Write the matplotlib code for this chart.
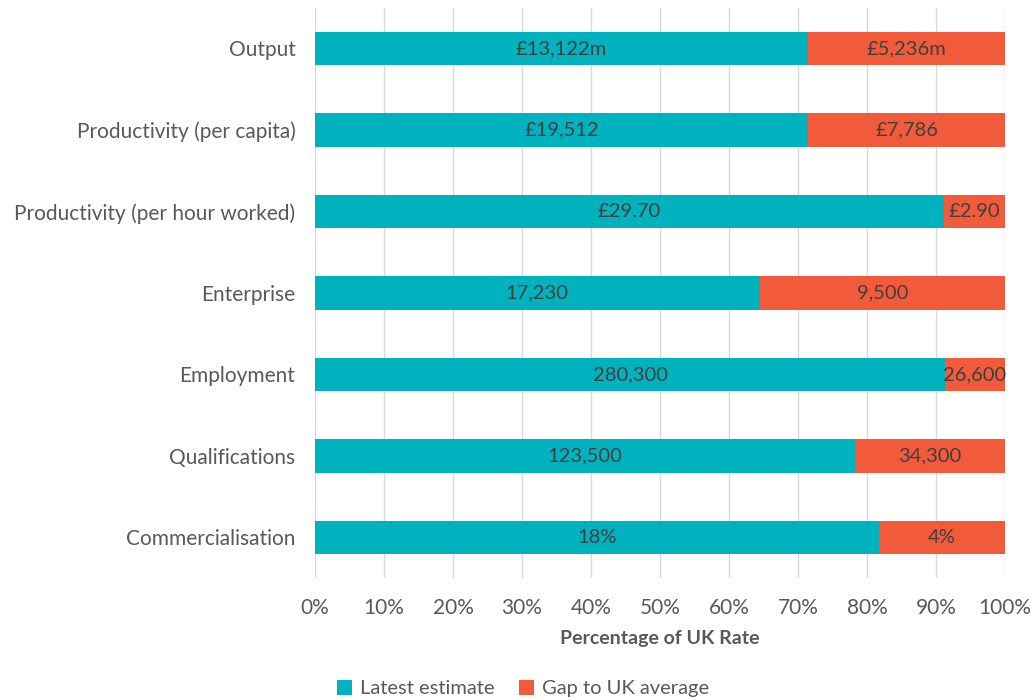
import numpy as np
import matplotlib.pyplot as plt
from matplotlib.ticker import PercentFormatter

plt.rcParams['font.family'] = ['Lato', 'DejaVu Sans']

categories = ['Output', 'Productivity (per capita)', 'Productivity (per hour worked)',
              'Enterprise', 'Employment', 'Qualifications', 'Commercialisation']
latest = [13122, 19512, 29.70, 17230, 280300, 123500, 18]
gap = [5236, 7786, 2.90, 9500, 26600, 34300, 4]
latest_labels = ['£13,122m', '£19,512', '£29.70', '17,230', '280,300', '123,500', '18%']
gap_labels = ['£5,236m', '£7,786', '£2.90', '9,500', '26,600', '34,300', '4%']

teal = '#00B2BE'
orange = '#F15A3A'
text_col = '#404040'
tick_col = '#595959'

latest = np.array(latest, dtype=float)
gap = np.array(gap, dtype=float)
total = latest + gap
latest_pct = latest / total * 100
gap_pct = gap / total * 100

fig = plt.figure(figsize=(10.36, 7), dpi=100)
ax = fig.add_axes([0.304, 0.174, 0.666, 0.815])

y = np.arange(len(categories))
h = 0.41
ax.barh(y, latest_pct, height=h, color=teal, label='Latest estimate', zorder=3)
ax.barh(y, gap_pct, left=latest_pct, height=h, color=orange, label='Gap to UK average', zorder=3)

for i in range(len(categories)):
    ax.text(latest_pct[i] / 2, y[i], latest_labels[i], ha='center', va='center',
            fontsize=14.5, color=text_col, zorder=4)
    ax.text(latest_pct[i] + gap_pct[i] / 2, y[i], gap_labels[i], ha='center', va='center',
            fontsize=14.5, color=text_col, zorder=4)

ax.set_xlim(0, 100)
ax.set_ylim(len(categories) - 0.5, -0.5)
ax.set_yticks(y)
ax.set_yticklabels(categories)
ax.set_xticks(np.arange(0, 101, 10))
ax.xaxis.set_major_formatter(PercentFormatter(decimals=0))
ax.tick_params(axis='both', length=0, labelsize=15, colors=tick_col)
ax.tick_params(axis='x', pad=14)
ax.tick_params(axis='y', pad=14)
ax.grid(axis='x', color='#D9D9D9', linewidth=1, zorder=0)
for s in ax.spines.values():
    s.set_visible(False)

ax.set_xlabel('Percentage of UK Rate', fontsize=14, fontweight='bold', color=tick_col, labelpad=9)

fig.legend(loc='lower center', bbox_to_anchor=(0.505, -0.022), ncol=2, frameon=False,
           fontsize=14.5, handlelength=0.75, handleheight=0.75, columnspacing=1.2,
           handletextpad=0.4, labelcolor=tick_col)

fig.savefig('out.png', dpi=100)
